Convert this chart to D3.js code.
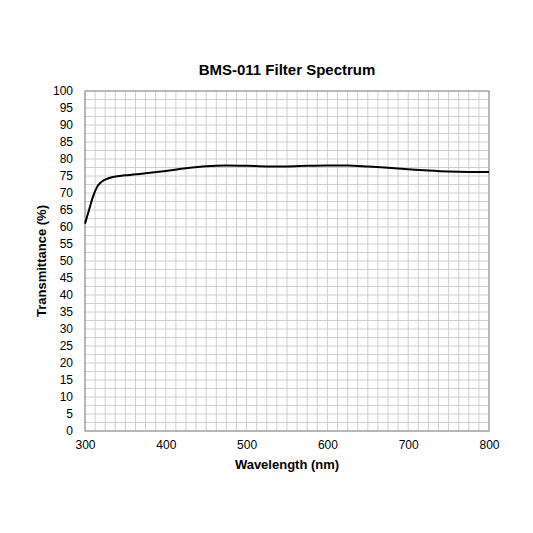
<!DOCTYPE html><html><head><script src="https://cdn.jsdelivr.net/npm/d3@7"></script>
<style>body{margin:0;background:#fff}text{font-family:"Liberation Sans",Arial,sans-serif}</style></head><body>
<svg id="c" width="533" height="533"></svg>
<script>
const wavelengths=[300,305,310,315,320,330,340,350,375,400,425,450,475,500,525,550,575,600,625,650,675,700,725,750,775,800];
const transmittance=[61,65,69,71.8,73.2,74.4,74.9,75.2,75.8,76.5,77.3,77.9,78.1,78.0,77.8,77.8,78.0,78.1,78.1,77.8,77.4,77.0,76.6,76.3,76.2,76.2];
const xTicks=[300,400,500,600,700,800];
const yTicks=d3.range(0,101,5);
const svg=d3.select("#c");
const x=d3.scaleLinear().domain([300,800]).range([85,489]);
const y=d3.scaleLinear().domain([0,100]).range([431,91]);
const g=svg.append("g");
d3.range(300,800.1,12.5).forEach(v=>g.append("line").attr("x1",x(v)).attr("x2",x(v)).attr("y1",y(0)).attr("y2",y(100)).attr("stroke","#d0d0d0").attr("stroke-width",1));
d3.range(0,100.1,2.5).forEach(v=>g.append("line").attr("y1",y(v)).attr("y2",y(v)).attr("x1",x(300)).attr("x2",x(800)).attr("stroke","#d0d0d0").attr("stroke-width",1));
g.append("rect").attr("x",85).attr("y",91).attr("width",404).attr("height",340).attr("fill","none").attr("stroke","#888");
svg.append("g").attr("transform","translate(0,431)").call(d3.axisBottom(x).tickValues(xTicks).tickSize(0).tickPadding(9)).call(a=>a.select(".domain").remove()).selectAll("text").attr("font-size",12).attr("fill","#000").style("font-family","Liberation Sans, Arial");
svg.append("g").attr("transform","translate(85,0)").call(d3.axisLeft(y).tickValues(yTicks).tickSize(0).tickPadding(12)).call(a=>a.select(".domain").remove()).selectAll("text").attr("font-size",12).attr("fill","#000").style("font-family","Liberation Sans, Arial");
svg.append("path").datum(wavelengths.map((w,i)=>[w,transmittance[i]])).attr("d",d3.line().x(d=>x(d[0])).y(d=>y(d[1])).curve(d3.curveMonotoneX)).attr("fill","none").attr("stroke","#000").attr("stroke-width",2);
svg.append("text").attr("x",287).attr("y",75).attr("text-anchor","middle").attr("font-size",15).attr("font-weight","bold").text("BMS-011 Filter Spectrum");
svg.append("text").attr("x",287).attr("y",469).attr("text-anchor","middle").attr("font-size",13).attr("font-weight","bold").text("Wavelength (nm)");
svg.append("text").attr("transform","translate(46,261) rotate(-90)").attr("text-anchor","middle").attr("font-size",13).attr("font-weight","bold").text("Transmittance (%)");
</script></body></html>
